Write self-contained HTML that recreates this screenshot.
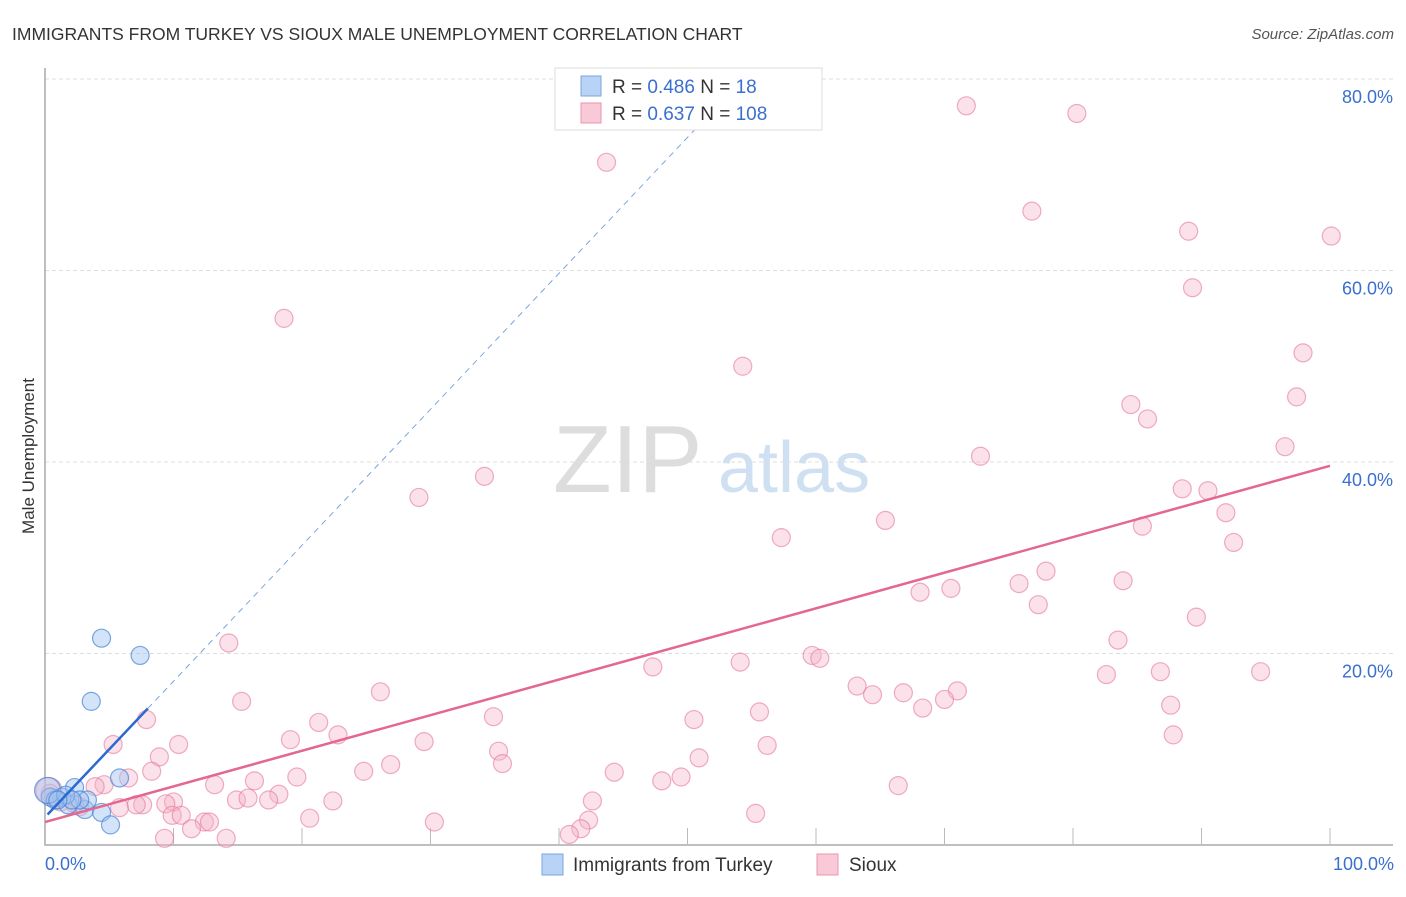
<!DOCTYPE html>
<html><head><meta charset="utf-8"><style>
body{margin:0;background:#fff;font-family:"Liberation Sans",sans-serif}
svg text{font-family:"Liberation Sans",sans-serif}
</style></head><body>
<svg id="c" width="1406" height="892" xmlns="http://www.w3.org/2000/svg">
<text x="12" y="40" font-size="17.5" fill="#333">IMMIGRANTS FROM TURKEY VS SIOUX MALE UNEMPLOYMENT CORRELATION CHART</text>
<text x="1394" y="39" font-size="15" fill="#555" font-style="italic" text-anchor="end">Source: ZipAtlas.com</text>
<g>
<text x="553" y="492" font-size="96" font-family="Liberation Serif,serif" fill="#ddd">ZIP</text>
<text x="718" y="492" font-size="72" fill="#cfe0f2">atlas</text>
</g>
<g id="grid"></g>
<g id="axes"></g>
<g id="pts"></g>
<g id="lines"></g>
<text transform="translate(34,456) rotate(-90)" font-size="17" fill="#333" text-anchor="middle">Male Unemployment</text>
<text x="45" y="870" font-size="18" fill="#3a6fd0">0.0%</text>
<text x="1394" y="870" font-size="18" fill="#3a6fd0" text-anchor="end">100.0%</text>
<g>
<rect x="555" y="68" width="267" height="62" fill="#fff" stroke="#ddd"/>
<rect x="581" y="76" width="20" height="20" fill="#b8d3f5" stroke="#7aa6e0"/>
<rect x="581" y="103" width="20" height="20" fill="#f9c9d7" stroke="#ea95b0"/>
<text x="612" y="93" font-size="19" fill="#333">R = <tspan fill="#3a6fd0">0.486</tspan>   N = <tspan fill="#3a6fd0">  18</tspan></text>
<text x="612" y="120" font-size="19" fill="#333">R = <tspan fill="#3a6fd0">0.637</tspan>   N = <tspan fill="#3a6fd0">108</tspan></text>
</g>
<g>
<rect x="542" y="854" width="21" height="21" fill="#b8d3f5" stroke="#7aa6e0"/>
<text x="573" y="871" font-size="19" fill="#333">Immigrants from Turkey</text>
<rect x="817" y="854" width="21" height="21" fill="#f9c9d7" stroke="#ea95b0"/>
<text x="849" y="871" font-size="19" fill="#333">Sioux</text>
</g>
</svg>
<script>
const yTicks=[20,40,60,80];
const yTickLabels=["20.0%","40.0%","60.0%","80.0%"];
const xTicks=[10,20,30,40,50,60,70,80,90,100];
const turkeyX=[4.4,7.4,3.6,5.8,2.3,1.3,0.4,0.8,1.8,3.1,4.4,5.1,3.3,2.7,0.2,1.6,2.1,1.0];
const turkeyY=[21.6,19.8,15.0,7.0,6.0,5.0,5.0,4.7,4.2,3.7,3.4,2.1,4.7,4.7,5.7,5.2,4.7,4.7];
const siouxX=[71.7,80.3,43.7,76.8,89.0,100.1,18.6,89.3,97.9,54.3,84.5,97.4,85.8,96.5,72.8,34.2,29.1,88.5,90.5,65.4,85.4,91.9,92.5,57.3,77.9,75.8,68.1,70.5,83.9,77.3,89.6,14.3,83.5,59.7,60.3,54.1,47.3,82.6,86.8,94.6,63.2,64.4,66.8,71.0,70.0,68.3,26.1,15.3,87.6,55.6,50.5,34.9,7.9,21.3,19.1,22.8,87.8,10.4,5.3,29.5,56.2,35.3,8.9,50.9,35.6,26.9,24.8,8.3,44.3,49.5,48.0,19.6,6.5,16.3,13.2,4.6,66.4,3.9,18.2,42.6,14.9,15.8,17.4,22.4,10.0,9.4,7.6,5.8,7.1,2.7,2.3,1.2,0.8,0.4,9.9,10.6,20.6,12.4,12.8,30.3,42.3,55.3,11.4,41.7,40.8,14.1,9.3,0.3];
const siouxY=[77.2,76.4,71.3,66.2,64.1,63.6,55.0,58.2,51.4,50.0,46.0,46.8,44.5,41.6,40.6,38.5,36.3,37.2,37.0,33.9,33.3,34.7,31.6,32.1,28.6,27.3,26.4,26.8,27.6,25.1,23.8,21.1,21.4,19.8,19.5,19.1,18.6,17.8,18.1,18.1,16.6,15.7,15.9,16.1,15.2,14.3,16.0,15.0,14.6,13.9,13.1,13.4,13.1,12.8,11.0,11.5,11.5,10.5,10.5,10.8,10.4,9.8,9.2,9.1,8.5,8.4,7.7,7.7,7.6,7.1,6.7,7.1,7.0,6.7,6.3,6.3,6.2,6.1,5.3,4.6,4.7,4.9,4.7,4.6,4.5,4.3,4.2,3.9,4.2,4.0,4.3,4.5,4.9,5.4,3.1,3.1,2.8,2.4,2.4,2.4,2.6,3.3,1.7,1.7,1.1,0.7,0.7,5.7];
const turkeyFit=[2.9,1.42]; // intercept, slope
const siouxFit=[2.4,0.372];
const X=v=>45+v*12.85, Y=v=>845-v*9.575;
const NS="http://www.w3.org/2000/svg";
function mk(t,a,p){const e=document.createElementNS(NS,t);for(const k in a)e.setAttribute(k,a[k]);p.appendChild(e);return e;}
const grid=document.getElementById('grid'),axes=document.getElementById('axes'),pts=document.getElementById('pts'),lines=document.getElementById('lines');
yTicks.forEach((t,i)=>{
 const l=mk('line',{x1:45,x2:1393,y1:Y(t),y2:Y(t),stroke:'#ddd','stroke-dasharray':'4,3'},grid);
 
 
 const tx=mk('text',{x:1393,y:Y(t)+24,'font-size':18,fill:'#3a6fd0','text-anchor':'end'},grid);
 tx.textContent=yTickLabels[i];
 
 
});
const ax=mk('path',{d:'M45 68V845H1393',fill:'none',stroke:'#aaa','stroke-width':1.5},axes);


xTicks.forEach(t=>{
 const l=mk('line',{x1:X(t),x2:X(t),y1:828,y2:845,stroke:'#bbb'},axes);
 
 
});
siouxX.forEach((x,i)=>{
 const c=mk('circle',{cx:X(x),cy:Y(siouxY[i]),r:i==siouxX.length-1?13:9,fill:'rgba(246,180,200,0.4)',stroke:'rgba(230,120,155,0.6)','stroke-width':1.2},pts);
 
 
});
turkeyX.forEach((x,i)=>{
 const c=mk('circle',{cx:X(x),cy:Y(turkeyY[i]),r:i==14?13:9,fill:'rgba(160,195,240,0.45)',stroke:'rgba(70,130,215,0.7)','stroke-width':1.2},pts);
 
 
});
const f=(fit,x)=>fit[0]+fit[1]*x;
const d1=mk('line',{x1:X(8),y1:Y(f(turkeyFit,8)),x2:X(53),y2:Y(f(turkeyFit,53)),stroke:'#7aa6e0','stroke-width':1,'stroke-dasharray':'6,5'},lines);


const t1=mk('line',{x1:X(0.2),y1:Y(f(turkeyFit,0.2)),x2:X(8),y2:Y(f(turkeyFit,8)),stroke:'#2a6ad0','stroke-width':2.5},lines);


const t2=mk('line',{x1:X(0),y1:Y(f(siouxFit,0)),x2:X(100),y2:Y(f(siouxFit,100)),stroke:'#e4678f','stroke-width':2.5},lines);


</script>
</body></html>
